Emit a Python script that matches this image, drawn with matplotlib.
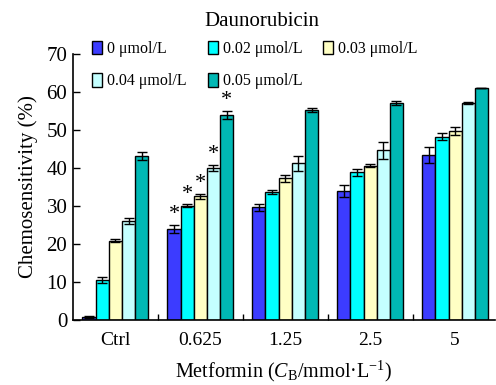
import matplotlib
matplotlib.use("Agg")
import matplotlib.pyplot as plt
import numpy as np

plt.rcParams['font.family'] = ['Liberation Serif', 'DejaVu Serif']
plt.rcParams['mathtext.fontset'] = 'custom'
plt.rcParams['mathtext.rm'] = 'Liberation Serif'
plt.rcParams['mathtext.it'] = 'Liberation Serif:italic'

groups = ["Ctrl", "0.625", "1.25", "2.5", "5"]
series = ["0 μmol/L", "0.02 μmol/L", "0.03 μmol/L", "0.04 μmol/L", "0.05 μmol/L"]
colors = ["#3c3cff", "#00ffff", "#ffffc4", "#c4ffff", "#00b8b4"]
values = [
    [0.8, 24.0, 29.6, 34.0, 43.4],
    [10.5, 30.0, 33.6, 38.8, 48.2],
    [20.9, 32.5, 37.3, 40.6, 49.7],
    [26.1, 40.0, 41.2, 44.6, 57.0],
    [43.2, 54.0, 55.3, 57.0, 61.0],
]
errors = [
    [0.2, 1.0, 0.9, 1.6, 2.0],
    [0.8, 0.4, 0.5, 1.0, 0.9],
    [0.3, 0.6, 0.9, 0.4, 1.0],
    [0.8, 0.8, 2.0, 2.2, 0.3],
    [1.0, 1.0, 0.5, 0.5, 0.1],
]
star_group = 1

fig = plt.figure(figsize=(4.96, 3.85), dpi=100)
ax = fig.add_axes([0.147, 0.169, 0.851, 0.691])

x = np.arange(len(groups))
w = 0.155
handles = []
for i, (vals, errs, c, lab) in enumerate(zip(values, errors, colors, series)):
    pos = x + (i - 2) * w
    b = ax.bar(pos, vals, width=w, color=c, edgecolor='black', linewidth=1.0, label=lab,
               yerr=errs, error_kw=dict(ecolor='black', elinewidth=1.0, capsize=3.5, capthick=1.0))
    handles.append(b)
    ax.text(pos[star_group], vals[star_group] + errs[star_group] + 0.2, "*",
            ha='center', va='bottom', fontsize=16)

ax.set_xlim(-0.5, 4.47)
ax.set_ylim(0, 70)
ax.set_yticks(range(0, 71, 10))
ax.set_xticks(x)
ax.set_xticklabels(groups)
ax.set_xticks(x[:-1] + 0.5, minor=True)
ax.tick_params(axis='x', which='major', length=0, labelsize=14, pad=9)
ax.tick_params(axis='x', which='minor', length=4, direction='in', width=1)
ax.tick_params(axis='y', direction='in', length=5, width=1, labelsize=15, pad=4)
for s in ['top', 'right']:
    ax.spines[s].set_visible(False)
for s in ['left', 'bottom']:
    ax.spines[s].set_linewidth(1.2)

ax.set_ylabel("Chemosensitivity (%)", fontsize=15, labelpad=6)
ax.set_xlabel("Metformin ($\\it{C}_{\\rm B}$/mmol·L$^{-1}$)", fontsize=14.5, labelpad=7)

order = [0, 3, 1, 4, 2]
leg = ax.legend([handles[k] for k in order], [series[k] for k in order],
                ncol=3, loc='upper left', bbox_to_anchor=(0.03, 1.072), frameon=False,
                fontsize=11.5, handlelength=0.65, handleheight=0.9, handletextpad=0.3,
                columnspacing=1.3, labelspacing=1.0, borderaxespad=0.0)
fig.text(262 / 496, 1 - 22 / 385, "Daunorubicin", ha='center', va='center', fontsize=15)
fig.savefig("out.png", dpi=100)
